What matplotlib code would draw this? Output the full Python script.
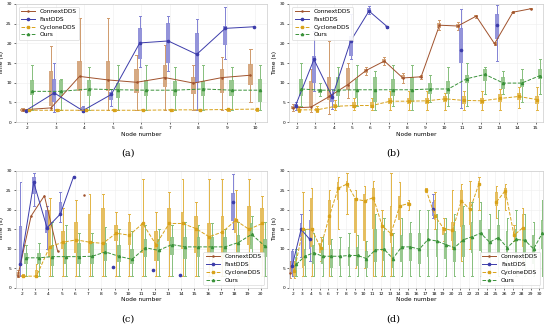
import numpy as np
import matplotlib.pyplot as plt

nan = np.nan

# ---------------- panel (a): nodes 2..10 ----------------
a_nodes = list(range(2, 11))
a_connext = [3.1, 3.6, 11.6, 10.7, 10.1, 11.3, 9.9, 11.3, 11.9]
a_fast = [2.9, 7.4, 2.9, 7.0, 20.1, 20.6, 17.2, 23.8, 24.2]
a_cyclone = [3.0, 3.0, 3.0, 3.0, 3.0, 3.1, 3.1, 3.2, 3.3]
a_ours = [7.8, 7.8, 8.4, 8.2, 8.1, 8.1, 8.4, 8.1, 8.1]
# box stats: (whisker low, q1, q3, whisker high)
a_connext_box = [(2.8, 2.9, 3.3, 3.5), (3, 4, 13, 19.3), (3, 8, 15.5, 26.5), (3, 8, 15.5, 26.5),
                 (3, 7.5, 13.5, 17), (3, 9, 14.5, 19.5), (3, 7, 11.5, 14.5), (3, 7.5, 13.5, 16.5),
                 (5, 9.5, 14.8, 18.5)]
a_fast_box = [(2.7, 2.8, 3.0, 3.1), (2.5, 5, 11, 15), (2.5, 2.8, 3.8, 4.2), (4, 5.5, 7.7, 8.5),
              (14, 16, 24, 27), (13, 15, 25.2, 27), (3, 10, 22.6, 26.2), (16, 19.6, 24.5, 29.2), None]
a_cyclone_box = [(2.7, 2.8, 3.2, 3.4)] * 9
a_ours_box = [(3, 6.8, 10.8, 14.6), (3, 6.5, 10.8, 11), (3, 6.5, 10.8, 14), (3, 6, 10, 14.5),
              (3, 6.5, 10.8, 14.5), (3, 6.5, 10.5, 14), (3, 6.5, 10.5, 14.5), (3, 6.5, 10.8, 14),
              (3, 5, 11, 14.5)]

# ---------------- panel (b): nodes 2..15 ----------------
b_nodes = list(range(2, 16))
b_connext = [3.6, 3.8, 6.5, 9.5, 13.1, 15.5, 11.2, 11.5, 24.6, 24.4, 26.9, 19.9, 27.9, 28.8]
b_fast = [4.2, 15.9, 6.4, 20.6, 28.2, 24.2, nan, nan, nan, 18.4, nan, 24.6, nan, nan]
b_cyclone = [3.1, 3.1, 4.0, 4.2, 4.2, 5.3, 5.3, 5.4, 5.9, 5.5, 5.4, 6.0, 6.5, 5.7]
b_ours = [8.4, 8.1, 8.1, 8.2, 8.2, 8.2, 8.2, 8.4, 8.4, 11.0, 12.1, 9.9, 9.9, 11.8]
b_connext_box = [(2.8, 3.3, 4.0, 4.5), (2.5, 3.8, 10.4, 13.6), (2, 5.7, 11.5, 20.6), (6, 8.2, 13.8, 15),
                 (12, 12.5, 13.5, 14), (14.5, 15, 16, 16.5), (10, 11, 12, 12.5), (11, 11.3, 11.7, 12),
                 (23.5, 24, 25.2, 26), (23.5, 24, 25, 25.5), (26.5, 26.7, 27.1, 27.3),
                 (19.5, 19.7, 20.1, 20.3), (27.7, 27.8, 28.0, 28.1), (28.6, 28.7, 28.9, 29.0)]
b_fast_box = [(3, 3.5, 4.5, 5), (8, 10, 16.7, 23.1), (3.3, 5, 7, 8.5), (16, 16.7, 21.8, 27.4),
              (27.5, 27.8, 29, 29.5), (24, 24.1, 24.3, 24.4), None, None, None,
              (3.6, 15, 24, 28.6), None, (15.5, 21, 27.4, 29.7), None, None]
b_cyclone_box = [(2.5, 2.8, 3.5, 4), (2.5, 2.8, 3.5, 4), (3, 3.5, 4.5, 5.5), (3, 3.5, 5, 6),
                 (3, 3.5, 5, 6), (3, 4.5, 6, 8), (3, 4.5, 6, 8), (3, 4.5, 6, 8), (3, 5, 6.5, 7.5),
                 (3, 4.5, 6.5, 8), (3, 4.5, 6, 8), (3, 5, 7, 8.5), (3.5, 5.5, 7.5, 9), (3, 4.5, 6.5, 9)]
b_ours_box = [(4, 6.5, 11, 15), (6.5, 7.5, 8.5, 10), (4, 6.5, 11.5, 14), (4, 6, 11, 14.5),
              (3, 5, 11.5, 13), (4, 6.5, 11, 14.5), (3, 5, 11.5, 14.5), (5, 7, 10, 12),
              (4, 7, 10.5, 14), (4, 10, 12, 15), (7, 10.5, 13.5, 14), (7, 8.5, 11.5, 13),
              (5, 9, 11, 13.5), (7, 11, 13.5, 16)]

# ---------------- panel (c): nodes 2..20 ----------------
c_nodes = list(range(2, 21))
c_connext = [3.0, 18.4, 23.6, 9.4, nan, 23.7] + [nan] * 13
c_fast = [6.0, 27.0, 15.4, 18.9, 28.5, nan, nan, 5.3, nan, nan, 4.5, nan, 3.4, nan, nan, nan, 21.9, nan, nan]
c_cyclone = [3.0, 3.0, 10.5, 11.7, 12.3, 11.7, 11.4, 14.0, 13.5, 16.5, 11.1, 16.5, 16.5, 15.2,
             13.1, 14.3, 17.3, 15.0, 16.5]
c_ours = [7.7, 7.7, 8.0, 8.0, 8.0, 8.1, 9.2, 8.1, 7.3, 10.3, 9.6, 11.1, 10.5, 10.5, 10.5, 10.5,
          11.6, 13.7, 10.7]
c_connext_box = [(2.8, 3, 4, 4.5)] + [None] * 18
c_fast_box = [(3, 5.6, 15.9, 27), (21, 24, 28.5, 29.5), (10, 14, 20, 21), (17, 19, 22, 24.5)] + \
             [None] * 12 + [(15, 17.1, 24.4, 29.1), None, None]
c_cyclone_box = [(2.8, 2.9, 3.3, 3.5), (2.8, 2.9, 4.5, 6), (3, 8, 20, 23), (3, 10, 14.5, 20.5),
                 (3, 9, 17, 22.5), (3, 9, 19, 24), (3, 9, 20.5, 24), (3, 12, 16, 19.5),
                 (3, 11, 17, 19), (3, 9, 16.5, 28), (3, 7, 14.5, 19.5), (3, 12, 20.5, 24.5),
                 (3, 10, 19.5, 28), (3, 9, 18.5, 22), (3, 8, 16.5, 28), (3, 7.5, 18.5, 28),
                 (5, 14, 18, 25), (3, 11, 21, 28), (3, 9, 20.5, 23.5)]
c_ours_box = [(3, 6, 9, 11), (3, 6, 9, 11.5), (3, 5.5, 11, 17), (3, 6, 11.5, 16), (3, 6, 11.5, 14),
              (3, 6, 11.5, 14), (3, 7, 11.5, 15.5), (3, 6.5, 11, 15), (3, 6, 10, 14.5),
              (3, 8, 12.5, 16), (3, 7, 12.5, 15), (3, 8.5, 13, 16), (3, 7.5, 13, 17),
              (3, 8, 13, 16), (3, 8.5, 13, 16.5), (3, 8, 13, 15), (3, 9, 13.5, 17),
              (8, 10, 16.5, 18.5), (3, 8, 12.5, 17)]

# ---------------- panel (d): nodes 2..30 ----------------
d_nodes = list(range(2, 31))
d_connext = [3.8] + [nan] * 28
d_fast = [5.7, 15.0, 12.4] + [nan] * 13 + [20.1] + [nan] * 12
d_cyclone = [4.3, 15.0, 15.0, 10.3, 18.4, 25.5, 26.6, 22.7, 22.3, 23.1, 15.9, 13.9, 21.0, 21.6,
             nan, 25.1, 18.4, 15.2, 14.7, 22.3, 20.1, 26.6, nan, 22.0, 24.9, 13.5, 15.4, nan, nan]
d_ours = [6.0, 8.1, 9.0, 8.1, 8.1, 8.1, 8.3, 8.3, 7.5, 9.7, 9.9, 7.5, 10.5, 10.5, 9.9, 12.4,
          12.0, 11.1, 10.3, 12.3, 13.1, 14.0, 11.7, 12.9, 10.3, 12.4, 12.2, 10.0, 14.0]
d_connext_box = [(2.5, 3.5, 5, 7)] + [None] * 28
d_fast_box = [(3, 4, 9.5, 10), (8, 13, 16.5, 19), (7, 10, 17.5, 20)] + [None] * 13 + \
             [(18, 18.5, 22, 24)] + [None] * 12
d_cyclone_box = [(2.5, 3, 5.5, 7), (3, 5, 15, 24.5), (3, 10.5, 23, 25.5), (7, 9, 11.5, 13),
                 (3, 11, 22.5, 25), (15, 22.5, 27, 28.5), (19, 24.5, 27.5, 29.5), (5, 14, 23, 25),
                 (5, 12, 24, 26), (3, 15, 25.5, 27.5), (3, 9.5, 17, 20), (3, 11.5, 21, 29.5),
                 (10, 17.5, 23.5, 27), (20, 21, 22, 22.5), None, (24.5, 24.8, 25.3, 25.5),
                 (15, 17.5, 22.5, 24.5), (12, 13.5, 15.5, 18), (10, 12, 17, 25), (7, 15.5, 25, 26.5),
                 (10, 16, 22, 27.5), (20, 23, 27.5, 28.5), None, (18, 21, 24.5, 26),
                 (20, 23, 25.5, 26.5), (12, 13, 14.5, 16), (6, 10.5, 19, 20.5), None, None]
d_ours_box = [(3, 4.5, 8, 10), (3, 5.5, 10, 15), (3, 6, 11, 14), (3, 6, 10, 13), (3, 5, 10, 12.5),
              (3, 5.5, 10, 13), (3, 5.5, 10.5, 14), (3, 5.5, 10.5, 13.5), (3, 5, 9.5, 12),
              (3, 6.5, 15, 19), (3, 7, 14.5, 18), (3, 5, 10.5, 14), (3, 6.5, 13.5, 18),
              (3, 7, 14, 17), (3, 6, 14, 20), (3, 8, 15, 20), (3, 8, 15, 19), (3, 7.5, 14, 18),
              (3, 6.5, 14.5, 19), (3, 8, 16, 21), (3, 9, 17, 22), (3, 9.5, 17.5, 22),
              (3, 7.5, 15, 19), (3, 8.5, 16, 20), (3, 6.5, 14.5, 18), (3, 8, 15, 20),
              (3, 8, 15, 19), (3, 6, 13.5, 17), (3, 10, 17.5, 22.5)]

labels = ['ConnextDDS', 'FastDDS', 'CycloneDDS', 'Ours']
line_colors = ['#a0522d', '#3c3caa', '#d8a21a', '#3a923a']
box_colors = ['#cf9a6c', '#8282d4', '#e2b445', '#86bf7c']
markers = ['.', 'o', 's', '^']
styles = ['-', '-', '--', '--']

panels = [
    ('(a)', a_nodes, [a_connext, a_fast, a_cyclone, a_ours],
     [a_connext_box, a_fast_box, a_cyclone_box, a_ours_box], 0.17, 'upper left'),
    ('(b)', b_nodes, [b_connext, b_fast, b_cyclone, b_ours],
     [b_connext_box, b_fast_box, b_cyclone_box, b_ours_box], 0.24, 'upper left'),
    ('(c)', c_nodes, [c_connext, c_fast, c_cyclone, c_ours],
     [c_connext_box, c_fast_box, c_cyclone_box, c_ours_box], 0.3, 'lower right'),
    ('(d)', d_nodes, [d_connext, d_fast, d_cyclone, d_ours],
     [d_connext_box, d_fast_box, d_cyclone_box, d_ours_box], 0.33, 'lower right'),
]
rects = [[0.029, 0.629, 0.456, 0.359], [0.526, 0.629, 0.462, 0.359],
         [0.029, 0.125, 0.456, 0.356], [0.526, 0.125, 0.462, 0.356]]
caption_pos = [(0.233, 0.535), (0.715, 0.535), (0.233, 0.03), (0.715, 0.03)]

fig = plt.figure(figsize=(5.5, 3.29), dpi=100)

for (cap, nodes, lines, boxes, off, loc), rect, cpos in zip(panels, rects, caption_pos):
    ax = fig.add_axes(rect)
    nodes = np.array(nodes, dtype=float)
    offsets = np.array([-1.0, -1 / 3, 1 / 3, 1.0]) * off
    width = off * 0.9
    for k in range(4):
        vals = np.array(lines[k], dtype=float)
        pos = nodes + offsets[k]
        stats, spos = [], []
        for p, v, b in zip(pos, vals, boxes[k]):
            if b is None:
                continue
            med = v if not np.isnan(v) else (b[1] + b[2]) / 2
            stats.append(dict(med=med, q1=b[1], q3=b[2], whislo=b[0], whishi=b[3]))
            spos.append(p)
        if stats:
            ax.bxp(stats, positions=spos, widths=width, patch_artist=True, showfliers=False,
                   boxprops=dict(facecolor=box_colors[k], edgecolor='none', alpha=0.85),
                   whiskerprops=dict(color=box_colors[k], linewidth=0.7),
                   capprops=dict(color=box_colors[k], linewidth=0.7),
                   medianprops=dict(linewidth=0), capwidths=width * 0.5)
        ax.plot(pos, vals, linestyle=styles[k], color=line_colors[k], marker=markers[k],
                markersize=1.6, linewidth=0.7, label=labels[k], zorder=5)
    ax.set_ylim(0, 30)
    ax.set_xlim(nodes[0] - 0.35 - off * 0.3, nodes[-1] + 0.35 + off * 0.3)
    ax.set_xticks(nodes)
    ax.set_xticklabels([str(int(n)) for n in nodes])
    ax.set_yticks(np.arange(0, 31, 5))
    ax.tick_params(labelsize=3.2, length=1.5, width=0.4, pad=1.5)
    ax.grid(True, color='#eeeeee', linewidth=0.4)
    ax.set_axisbelow(True)
    for s in ax.spines.values():
        s.set_color('#cccccc')
        s.set_linewidth(0.5)
    ax.set_xlabel('Node number', fontsize=4.2, labelpad=1)
    ax.set_ylabel('Time (s)', fontsize=4.2, labelpad=1.5)
    ax.legend(loc=loc, fontsize=4.2, handlelength=2.4, borderpad=0.4, labelspacing=0.45,
              framealpha=0.9, edgecolor='#cccccc').get_frame().set_linewidth(0.4)
    fig.text(cpos[0], cpos[1], cap, ha='center', va='center', fontsize=7, family='DejaVu Serif')

fig.savefig('out.png', dpi=100)
